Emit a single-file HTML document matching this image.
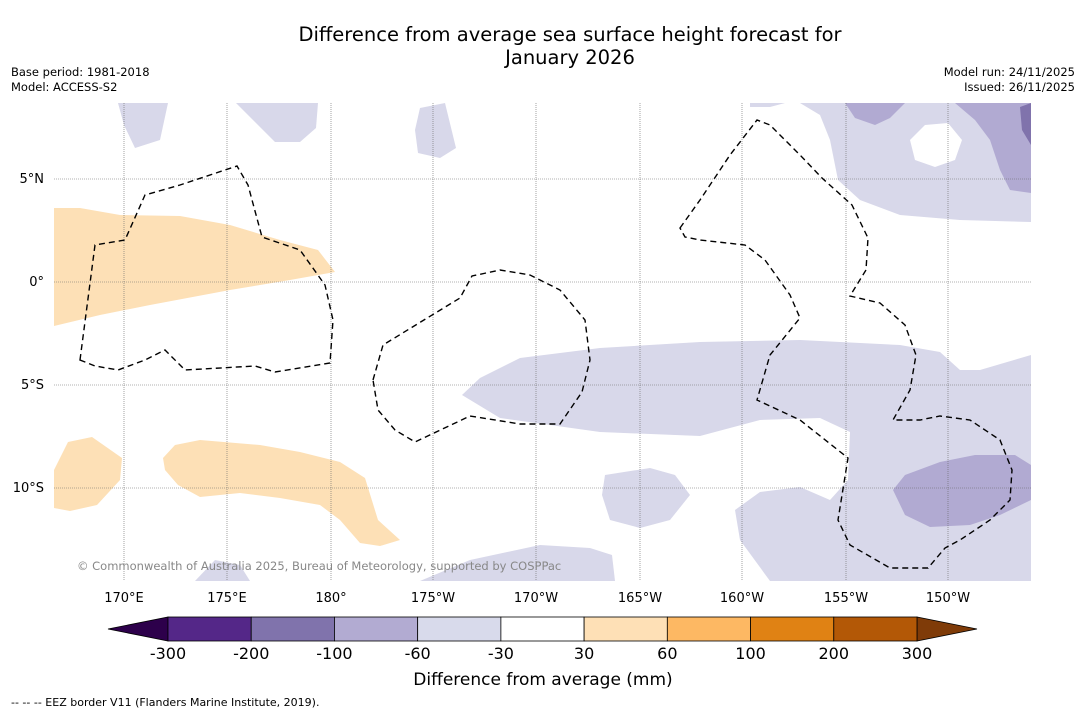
<!DOCTYPE html>
<html><head><meta charset="utf-8"><style>
body{margin:0;background:#fff;width:1085px;height:713px;overflow:hidden;font-family:"DejaVu Sans",sans-serif;}
svg text{font-family:"DejaVu Sans",sans-serif;}
</style></head><body>
<svg width="1085" height="713">
<text x="570" y="41" text-anchor="middle" font-size="19.5">Difference from average sea surface height forecast for</text>
<text x="570" y="64" text-anchor="middle" font-size="19.5">January 2026</text>
<text x="11" y="76" font-size="11.5">Base period: 1981-2018</text>
<text x="11" y="91" font-size="11.5">Model: ACCESS-S2</text>
<text x="1075" y="76" font-size="11.5" text-anchor="end">Model run: 24/11/2025</text>
<text x="1075" y="91" font-size="11.5" text-anchor="end">Issued: 26/11/2025</text>
<defs><clipPath id="mc"><rect x="54" y="103" width="977" height="478"/></clipPath></defs>
<g clip-path="url(#mc)">
<g fill="#d8d8ea">
<path d="M118,103 L168,103 L160,140 L135,148 L124,125Z"/>
<path d="M236,103 L318,103 L316,128 L300,142 L275,142Z"/>
<path d="M420,108 L445,103 L456,148 L440,158 L418,153 L415,130Z"/>
<path d="M750,103 L785,103 L770,107 L750,107Z"/>
<path d="M800,103 L1031,103 L1031,222 L960,220 L900,215 L860,200 L838,180 L830,140 L820,115Z"/>
<path d="M462,395 L480,378 L520,358 L600,348 L700,342 L800,340 L900,345 L940,352 L960,370 L980,370 L1031,355 L1031,581 L770,581 L740,540 L735,510 L760,492 L800,487 L830,500 L848,480 L850,432 L820,418 L760,420 L700,436 L600,432 L500,418Z"/>
<path d="M420,581 L470,560 L540,545 L590,548 L612,555 L615,581Z"/>
<path d="M605,475 L650,468 L675,475 L690,495 L670,520 L640,528 L610,520 L602,495Z"/>
<path d="M195,581 L215,560 L240,565 L250,581Z"/>
</g>
<path fill="#fff" d="M910,140 L925,125 L948,123 L962,140 L955,160 L935,167 L915,160Z"/>
<g fill="#b1aad2">
<path d="M845,103 L905,103 L890,118 L875,125 L855,118Z"/>
<path d="M955,103 L1031,103 L1031,193 L1010,190 L1000,170 L990,140 L975,120Z"/>
<path d="M893,490 L905,475 L940,462 L975,455 L1015,455 L1031,465 L1031,500 L1000,515 L970,525 L930,527 L905,515Z"/>
</g>
<path fill="#8073ac" d="M1020,107 L1031,103 L1031,145 L1022,130Z"/>
<g fill="#fde0b6">
<path d="M54,208 L80,208 L120,215 L180,216 L230,225 L280,240 L318,250 L335,272 L290,280 L230,290 L150,305 L100,315 L54,326Z"/>
<path d="M54,470 L68,442 L92,437 L122,458 L120,480 L97,505 L70,511 L54,508Z"/>
<path d="M163,458 L175,445 L200,440 L260,445 L300,452 L340,462 L365,478 L378,520 L400,540 L380,546 L360,543 L340,520 L320,505 L280,498 L240,493 L200,497 L178,485 L165,470Z"/>
</g>
<g stroke="#666" stroke-width="0.6" stroke-dasharray="1,1">
<line x1="124" y1="103" x2="124" y2="581"/><line x1="227" y1="103" x2="227" y2="581"/><line x1="331" y1="103" x2="331" y2="581"/><line x1="433" y1="103" x2="433" y2="581"/><line x1="536" y1="103" x2="536" y2="581"/><line x1="640" y1="103" x2="640" y2="581"/><line x1="742" y1="103" x2="742" y2="581"/><line x1="846" y1="103" x2="846" y2="581"/><line x1="948" y1="103" x2="948" y2="581"/>
<line x1="54" y1="179" x2="1031" y2="179"/><line x1="54" y1="282" x2="1031" y2="282"/><line x1="54" y1="385" x2="1031" y2="385"/><line x1="54" y1="488" x2="1031" y2="488"/>
</g>
<g fill="none" stroke="#000" stroke-width="1.4" stroke-dasharray="6,4">
<path d="M80,360 L95,245 L125,240 L145,195 L180,185 L237,166 L248,185 L262,237 L300,250 L325,285 L333,320 L330,363 L275,372 L255,366 L185,370 L165,350 L145,360 L118,370 L95,366Z"/>
<path d="M373,380 L383,345 L460,298 L472,276 L500,270 L530,275 L560,290 L585,320 L590,360 L582,392 L560,424 L520,424 L470,416 L415,442 L395,430 L378,410Z"/>
<path d="M680,228 L700,200 L730,155 L757,120 L770,125 L800,155 L822,178 L852,205 L868,238 L866,270 L850,296 L880,303 L905,325 L916,355 L910,390 L893,420 L920,420 L940,416 L970,420 L1000,440 L1012,470 L1010,500 L990,520 L960,540 L945,548 L928,568 L890,568 L850,545 L838,520 L848,458 L800,420 L757,400 L770,355 L800,318 L790,295 L765,260 L745,245 L700,240 L685,237Z"/>
</g>
<text x="77" y="570" font-size="11.5" fill="#888">© Commonwealth of Australia 2025, Bureau of Meteorology, supported by COSPPac</text>
</g>
<g font-size="13">
<text x="44" y="183" text-anchor="end">5°N</text><text x="44" y="286" text-anchor="end">0°</text><text x="44" y="389" text-anchor="end">5°S</text><text x="44" y="492" text-anchor="end">10°S</text>
<text x="124" y="602" text-anchor="middle">170°E</text><text x="227" y="602" text-anchor="middle">175°E</text><text x="331" y="602" text-anchor="middle">180°</text><text x="433" y="602" text-anchor="middle">175°W</text><text x="536" y="602" text-anchor="middle">170°W</text><text x="640" y="602" text-anchor="middle">165°W</text><text x="742" y="602" text-anchor="middle">160°W</text><text x="846" y="602" text-anchor="middle">155°W</text><text x="948" y="602" text-anchor="middle">150°W</text>
</g>
<g id="cbar"></g>
<text x="543" y="685" text-anchor="middle" font-size="17">Difference from average (mm)</text>
<text x="11" y="706" font-size="11">--  --  -- EEZ border V11 (Flanders Marine Institute, 2019).</text>
</svg>
<script>
const cbLabels=["-300","-200","-100","-60","-30","30","60","100","200","300"];
const cbColors=["#542788","#8073ac","#b2abd2","#d8daeb","#ffffff","#fee0b6","#fdb863","#e08214","#b35806"];
const ns="http://www.w3.org/2000/svg";
const g=document.getElementById('cbar');
const x0=168,x1=917,y=617,h=24,w=(x1-x0)/cbColors.length;
function mk(t,a){const e=document.createElementNS(ns,t);for(const k in a)e.setAttribute(k,a[k]);g.appendChild(e);return e;}
const la=mk('polygon',{points:`108,${y+h/2} ${x0},${y} ${x0},${y+h}`,fill:'#2d004b',stroke:'#000','stroke-width':0.8});


const ra=mk('polygon',{points:`977,${y+h/2} ${x1},${y} ${x1},${y+h}`,fill:'#7f3b08',stroke:'#000','stroke-width':0.8});


cbColors.forEach((c,i)=>{const r=mk('rect',{x:x0+i*w,y:y,width:w,height:h,fill:c,stroke:'#000','stroke-width':0.8});

});
cbLabels.forEach((l,i)=>{const t=mk('text',{x:x0+i*w,y:659,'text-anchor':'middle','font-size':16});t.textContent=l;

});
</script>
</body></html>
